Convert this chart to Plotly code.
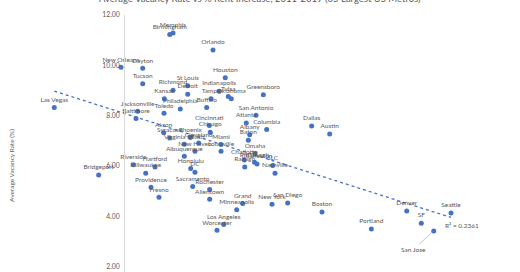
import numpy as np
import plotly.graph_objects as go

# ---- data ----
cities = ["Birmingham", "Memphis", "Orlando", "New Orleans", "Dayton", "Tucson", "Houston",
          "Richmond", "St Louis", "Detroit", "Kansas", "Philadelphia", "Toledo", "Jacksonville",
          "Baltimore", "Buffalo", "Indianapolis", "Tampa", "Tulsa", "Oklahoma", "Greensboro",
          "Las Vegas", "San Antonio", "Atlanta", "Columbia", "Albany", "Baton", "Dallas", "Austin",
          "Cincinnati", "Chicago", "Akron", "Syracuse", "Phoenix", "Virginia Beach", "Cleveland",
          "New Haven", "Albuquerque", "Miami", "Louisville", "Honolulu", "DC", "Riverside",
          "Hartford", "Milwaukee", "Providence", "Fresno", "Sacramento", "Rochester", "Allentown",
          "Grand", "Minneapolis", "Los Angeles", "Worcester", "New York", "San Diego", "Boston",
          "Portland", "Denver", "SF", "Seattle", "San Jose", "Bridgeport", "Omaha", "Charlotte",
          "Raleigh", "Pittsburgh", "Charleston", "SLC", "Nashville"]
rent_increase = [7.62, 8.17, 14.83, -0.50, 3.12, 3.12, 16.88,
                 8.17, 10.62, 10.62, 6.72, 9.38, 6.67, 2.28,
                 2.00, 13.78, 15.87, 14.50, 17.38, 17.88, 23.22,
                 -11.62, 22.00, 20.38, 23.78, 20.95, 20.72, 31.28, 34.28,
                 14.22, 14.38, 6.62, 7.62, 11.05, 10.05, 12.45,
                 11.83, 10.05, 16.17, 16.17, 11.12, 11.83, 1.55,
                 5.17, 3.62, 4.50, 5.83, 11.45, 14.28, 14.28,
                 19.78, 18.78, 16.62, 15.50, 24.67, 27.28, 33.00,
                 41.22, 47.12, 49.55, 54.50, 51.62, -4.22, 21.83, 20.05,
                 20.12, 21.75, 22.17, 24.78, 25.17]
vacancy = [11.22, 11.28, 10.61, 9.92, 9.88, 9.27, 9.50,
           9.01, 9.19, 8.85, 8.67, 8.26, 8.09, 8.17,
           7.88, 8.32, 8.97, 8.67, 8.76, 8.67, 8.83,
           8.32, 8.01, 7.71, 7.45, 7.24, 7.02, 7.59, 7.27,
           7.61, 7.34, 7.32, 7.11, 7.13, 6.86, 6.91,
           6.58, 6.38, 6.85, 6.58, 5.90, 5.75, 6.05,
           5.96, 5.71, 5.15, 4.75, 5.18, 5.06, 4.67,
           4.50, 4.26, 3.67, 3.44, 4.47, 4.52, 4.17,
           3.49, 4.21, 3.72, 4.13, 3.41, 5.64, 6.49, 6.23,
           5.96, 6.14, 6.08, 6.02, 5.71]
y_ticks = [2, 4, 6, 8, 10, 12]
r2_text = "R² = 0.2361"
title_text = "Average Vacancy Rate vs % Rent Increase, 2011-2019 (65 Largest US Metros)"
y_title = "Average Vacancy Rate (%)"
leader_city = "San Jose"

# ---- figure ----
W, H = 520, 272
FONT = "Lato"
GRAY = "#595959"
BLUE = "#4472C4"
X_RANGE = [-20.667, 66.0]
Y_RANGE = [1.781, 12.0]
TOP = 15

x = np.array(rent_increase)
y = np.array(vacancy)
labels = [("" if c == leader_city else c) for c in cities]

fig = go.Figure()

# trendline (least squares from the data)
slope, intercept = np.polyfit(x, y, 1)
tx = np.array([x.min(), x.max()])
ty = slope * tx + intercept
fig.add_trace(go.Scatter(x=tx, y=ty, mode="lines",
                         line=dict(color=BLUE, width=1.3, dash="dot"),
                         hoverinfo="skip", showlegend=False))

fig.add_trace(go.Scatter(x=x, y=y, mode="markers+text", text=labels,
                         textposition="top center",
                         textfont=dict(family=FONT, size=6.5, color=GRAY),
                         marker=dict(color=BLUE, size=5),
                         showlegend=False, cliponaxis=False))

# leader-line label
i = cities.index(leader_city)
fig.add_annotation(x=x[i], y=y[i], text=leader_city, showarrow=True, arrowhead=0,
                   arrowwidth=0.7, arrowcolor="#A6A6A6", ax=-20, ay=18, standoff=3,
                   font=dict(family=FONT, size=6.5, color=GRAY))

# R² label near trendline end
fig.add_annotation(x=tx[1], y=ty[1], text=r2_text, showarrow=False,
                   xanchor="left", yanchor="top", xshift=-8, yshift=-3,
                   font=dict(family=FONT, size=6.5, color=GRAY))

# title (partly cut off at the top)
fig.add_annotation(xref="paper", yref="paper", x=0.5, y=1 + 17 / (H - TOP),
                   text=title_text, showarrow=False, xanchor="center", yanchor="middle",
                   font=dict(family=FONT, size=9.5, color=GRAY))

# y-axis title
fig.add_annotation(xref="paper", yref="paper", x=11 / W, y=(H - 166) / (H - TOP),
                   text=y_title, showarrow=False, textangle=-90,
                   xanchor="center", yanchor="middle",
                   font=dict(family=FONT, size=6.5, color=GRAY))

y_axis_pos = (0 - X_RANGE[0]) / (X_RANGE[1] - X_RANGE[0])
fig.update_layout(
    width=W, height=H,
    margin=dict(l=0, r=0, t=TOP, b=0, pad=0),
    paper_bgcolor="white", plot_bgcolor="white",
    font=dict(family=FONT, color=GRAY),
    xaxis=dict(range=X_RANGE, visible=False, showgrid=False, zeroline=False),
    yaxis=dict(range=Y_RANGE, anchor="free", position=y_axis_pos,
               showline=True, linecolor="#D9D9D9", linewidth=1,
               showgrid=False, zeroline=False, tickvals=y_ticks,
               tickformat=".2f", ticks="", ticklabelstandoff=3,
               tickfont=dict(family=FONT, size=6.8, color=GRAY)),
)

fig.write_html("out.html")
